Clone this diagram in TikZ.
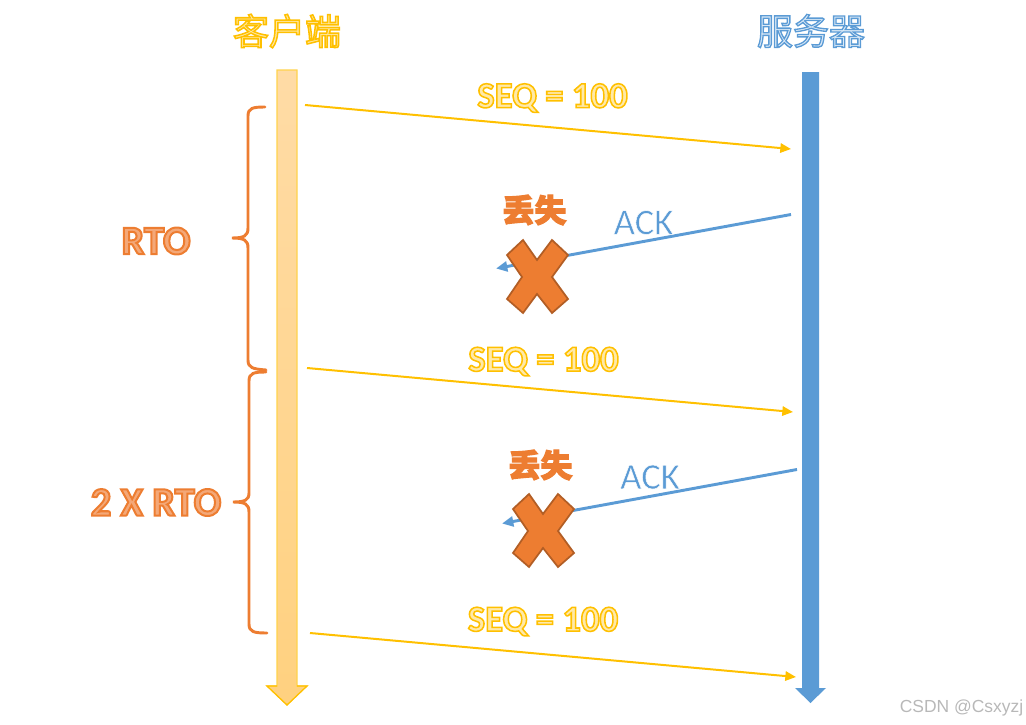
\documentclass[tikz,border=0pt]{standalone}
\usepackage{fontspec}
\setmainfont{Carlito}
\newfontfamily\cjk{Noto Sans CJK SC}
\newfontfamily\wm{Liberation Sans}
\definecolor{gold}{HTML}{FFC000}
\definecolor{goldin}{HTML}{FFE9A8}
\definecolor{org}{HTML}{ED7D31}
\definecolor{orgin}{HTML}{F4A878}
\definecolor{blu}{HTML}{5B9BD5}
\definecolor{bluin}{HTML}{DCEAF7}
% outlined text: #1 fill colour, #2 stroke rgb, #3 stroke width, #4 text
\newcommand{\outltext}[4]{{\color{#1}\special{pdf:code 2 Tr #3 w #2 RG}#4\special{pdf:code 0 Tr}}}
\newcommand{\goldtext}[1]{\outltext{goldin}{1 0.753 0}{1.15}{#1}}
\newcommand{\orgtext}[1]{\outltext{orgin}{0.929 0.49 0.192}{1.5}{#1}}
\newcommand{\blutext}[1]{\outltext{bluin}{0.357 0.608 0.835}{1}{#1}}
\newcommand{\thintext}[1]{\outltext{blu}{1 1 1}{0.35}{#1}}
\tikzset{
  seqlabel/.style={inner sep=0pt,font=\fontsize{27.5}{28}\selectfont\bfseries},
  titlelabel/.style={inner sep=0pt,font=\fontsize{27}{27}\cjk},
  lostlabel/.style={inner sep=0pt,font=\fontsize{24}{24}\cjk\bfseries,text=org},
  rtolabel/.style={inner sep=0pt,font=\fontsize{30.5}{31}\selectfont\bfseries},
  acklabel/.style={inner sep=0pt,font=\fontsize{27.5}{28}\selectfont,text=blu},
  seqline/.style={gold,line width=1.5pt,-{Triangle[length=8pt,width=7pt]}},
  ackline/.style={blu,line width=2.2pt,-{Triangle[length=8.5pt,width=7.5pt]}},
  bracket/.style={org,line width=2.2pt,line cap=round},
  crossshape/.style={fill=org,draw=org!75!black,line width=1.3pt,line join=miter},
}
\usetikzlibrary{arrows.meta}
\begin{document}
\begin{tikzpicture}[x=0.75pt,y=-0.75pt]
\useasboundingbox (0,0) rectangle (1026,725);
% client bar
\path[top color=gold!40!orange!35!white,bottom color=gold!55!orange!50!white,draw=gold!70!white,line width=0.9pt]
  (277,70) -- (297,70) -- (297,686) -- (307,686) -- (287,705) -- (267,686) -- (277,686) -- cycle;
\draw[gold,line width=0.9pt] (297,686) -- (307,686) -- (287,705) -- (267,686) -- (277,686);
% server bar
\fill[blu] (802,72) -- (819,72) -- (819,688) -- (826,688) -- (810.5,703) -- (795,688) -- (802,688) -- cycle;
% titles
\node[titlelabel] (client) at (287,31) {\goldtext{客户端}};
\node[titlelabel] (server) at (811,31) {\blutext{服务器}};
% anchors for the connectors
\coordinate (s1a) at (305,105); \coordinate (s1b) at (791,149);
\coordinate (s2a) at (307,368); \coordinate (s2b) at (793,412);
\coordinate (s3a) at (310,633); \coordinate (s3b) at (796,677);
\coordinate (a1a) at (791,214.5); \coordinate (a1b) at (496,268.5);
\coordinate (a2a) at (797,469.5); \coordinate (a2b) at (502,523.5);
\draw[seqline] (s1a) -- (s1b);
\draw[seqline] (s2a) -- (s2b);
\draw[seqline] (s3a) -- (s3b);
\draw[ackline] (a1a) -- (a1b);
\draw[ackline] (a2a) -- (a2b);
% crosses
\draw[crossshape] (523,240) -- (507,255) -- (522,277) -- (507,299) -- (523,313) -- (537,294) -- (552,313) -- (568,299) -- (552,277) -- (568,255) -- (552,240) -- (537,260) -- cycle;
\draw[crossshape] (529,494) -- (513,509) -- (528,531) -- (513,553) -- (529,567) -- (543,548) -- (558,567) -- (574,553) -- (558,531) -- (574,509) -- (558,494) -- (543,514) -- cycle;
% labels
\node[seqlabel] (q1) at (552.5,98) {\goldtext{SEQ = 100}};
\node[seqlabel] (q2) at (543.5,361.5) {\goldtext{SEQ = 100}};
\node[seqlabel] (q3) at (543,621.5) {\goldtext{SEQ = 100}};
\node[lostlabel] (l1) at (534.5,210) {\outltext{org}{0.929 0.49 0.192}{0.8}{丢失}};
\node[lostlabel] (l2) at (540.5,465) {\outltext{org}{0.929 0.49 0.192}{0.8}{丢失}};
\node[acklabel] (k1) at (643.5,222.5) {\thintext{ACK}};
\node[acklabel] (k2) at (650,477) {\thintext{ACK}};
\node[rtolabel] (r1) at (156,241) {\orgtext{RTO}};
\node[rtolabel] (r2) at (156,502.5) {\orgtext{2 X RTO}};
% braces
\draw[bracket] (265,107) .. controls (253,107) and (248,108) .. (248,116) -- (248,228)
  .. controls (248,236) and (244,238) .. (232,238) .. controls (244,238) and (248,240) .. (248,248)
  -- (248,360) .. controls (248,368) and (253,369) .. (266,370);
\draw[bracket] (266,372) .. controls (254,372) and (249,373) .. (249,381) -- (249,493)
  .. controls (249,500) and (245,502) .. (233,502) .. controls (245,502) and (249,504) .. (249,512)
  -- (249,624) .. controls (249,632) and (254,633) .. (267,633);
% watermark
\node[inner sep=0pt,text=black!28,font=\fontsize{13.1}{14}\wm] (mark) at (961.5,707.5) {CSDN @Csxyzj};
\end{tikzpicture}
\end{document}
